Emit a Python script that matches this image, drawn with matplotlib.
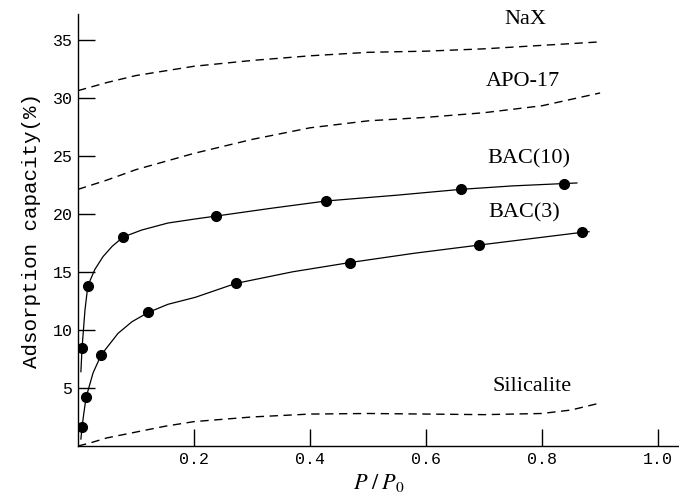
import matplotlib
matplotlib.use("Agg")
import matplotlib.pyplot as plt

plt.rcParams["mathtext.fontset"] = "stix"

# Measured data points
bac10_x = [0.007, 0.017, 0.078, 0.238, 0.428, 0.660, 0.838]
bac10_y = [8.45, 13.8, 18.0, 19.8, 21.1, 22.1, 22.6]
bac3_x = [0.007, 0.014, 0.040, 0.121, 0.272, 0.469, 0.691, 0.869]
bac3_y = [1.65, 4.2, 7.85, 11.5, 14.0, 15.8, 17.3, 18.4]

# Fitted curves
bac10_cx = [0.005, 0.007, 0.012, 0.017, 0.029, 0.043, 0.059, 0.078, 0.110, 0.155, 0.202, 0.238,
            0.33, 0.428, 0.55, 0.66, 0.75, 0.838, 0.86]
bac10_cy = [6.4, 8.45, 11.7, 13.8, 15.2, 16.3, 17.2, 18.0, 18.6, 19.2, 19.55, 19.8,
            20.45, 21.1, 21.6, 22.1, 22.4, 22.6, 22.65]
bac3_cx = [0.005, 0.007, 0.010, 0.014, 0.026, 0.040, 0.069, 0.093, 0.121, 0.155, 0.202, 0.272,
           0.37, 0.469, 0.58, 0.691, 0.78, 0.869, 0.881]
bac3_cy = [0.6, 1.65, 2.8, 4.2, 6.3, 7.85, 9.7, 10.7, 11.5, 12.2, 12.8, 14.0,
           15.0, 15.8, 16.6, 17.3, 17.85, 18.4, 18.45]

nax_x = [0.0, 0.05, 0.1, 0.15, 0.2, 0.3, 0.4, 0.5, 0.6, 0.7, 0.8, 0.9]
nax_y = [30.6, 31.3, 31.9, 32.3, 32.7, 33.2, 33.6, 33.9, 34.0, 34.2, 34.5, 34.8]
apo_x = [0.0, 0.05, 0.1, 0.2, 0.3, 0.4, 0.5, 0.6, 0.7, 0.8, 0.9]
apo_y = [22.1, 22.9, 23.8, 25.2, 26.4, 27.4, 28.0, 28.3, 28.7, 29.3, 30.4]
sil_x = [0.0, 0.02, 0.05, 0.1, 0.15, 0.2, 0.3, 0.4, 0.5, 0.6, 0.7, 0.8, 0.85, 0.9]
sil_y = [0.0, 0.25, 0.7, 1.2, 1.7, 2.1, 2.5, 2.75, 2.8, 2.75, 2.7, 2.8, 3.1, 3.7]

labels = ["NaX", "APO-17", "BAC(10)", "BAC(3)", "Silicalite"]
label_pos = [(0.771, 36.7), (0.767, 31.4), (0.778, 24.7), (0.769, 20.1), (0.783, 5.1)]

xticks = [0.2, 0.4, 0.6, 0.8, 1.0]
xticklabels = ["0.2", "0.4", "0.6", "0.8", "1.0"]
yticks = [5, 10, 15, 20, 25, 30, 35]
yticklabels = ["5", "10", "15", "20", "25", "30", "35"]

fig = plt.figure(figsize=(6.79, 4.93), dpi=100)
ax = fig.add_axes([78/679, 47/493, 601/679, 432/493])

dash = (0, (6, 4))
for cx, cy in [(nax_x, nax_y), (apo_x, apo_y), (sil_x, sil_y)]:
    ax.plot(cx, cy, color="black", lw=1.0, linestyle=dash)

ax.plot(bac10_cx, bac10_cy, color="black", lw=0.9)
ax.plot(bac3_cx, bac3_cy, color="black", lw=0.9)
ax.plot(bac10_x, bac10_y, "o", color="black", ms=7)
ax.plot(bac3_x, bac3_y, "o", color="black", ms=7)

for lab, (lx, ly) in zip(labels, label_pos):
    ax.text(lx, ly, lab, ha="center", va="center", fontsize=16, family="Liberation Serif")

ax.set_xlim(0, 1.036)
ax.set_ylim(0, 37.2)
ax.spines["top"].set_visible(False)
ax.spines["right"].set_visible(False)
for s in ("left", "bottom"):
    ax.spines[s].set_linewidth(1.0)

ax.set_xticks(xticks)
ax.set_xticklabels(xticklabels, family="Liberation Mono", fontsize=12)
ax.set_yticks(yticks)
ax.set_yticklabels(yticklabels, family="Liberation Mono", fontsize=12)
ax.tick_params(direction="in", length=12, width=1.0, pad=4)

ax.set_xlabel("$P\\;/\\;P_0$", fontsize=16, labelpad=4)
ax.set_ylabel("Adsorption capacity(%)", fontsize=15, family="Liberation Mono", labelpad=8)

fig.savefig("out.png", dpi=100)
